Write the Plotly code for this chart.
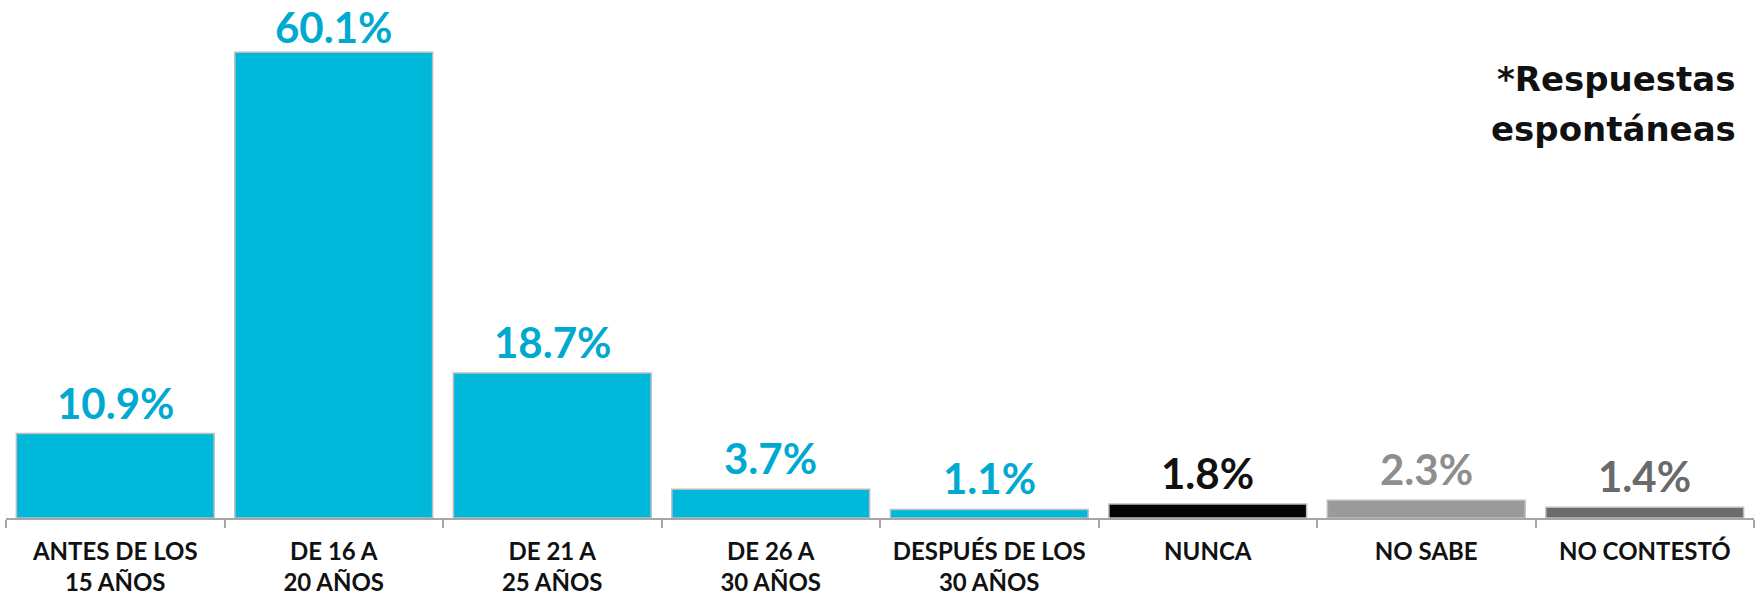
import plotly.graph_objects as go

categories = ["ANTES DE LOS<br>15 AÑOS", "DE 16 A<br>20 AÑOS", "DE 21 A<br>25 AÑOS", "DE 26 A<br>30 AÑOS",
              "DESPUÉS DE LOS<br>30 AÑOS", "NUNCA", "NO SABE", "NO CONTESTÓ"]
values = [10.9, 60.1, 18.7, 3.7, 1.1, 1.8, 2.3, 1.4]
bar_colors = ["#00B8D9"] * 5 + ["#050505", "#9A9A9A", "#6B6B6B"]
label_colors = ["#00A9D0"] * 5 + ["#111111", "#8E8E8E", "#6A6A6A"]
note_lines = ["*Respuestas", "espontáneas"]

FONT = "Lato"
Y_MAX = 66.84
PLOT_H = 596 - 78

fig = go.Figure()
fig.add_trace(go.Bar(
    x=categories, y=values,
    marker=dict(color=bar_colors, line=dict(color="#BDBDBD", width=1.5)),
    cliponaxis=False, width=0.905, hoverinfo="skip",
))

for cat, val, col in zip(categories, values, label_colors):
    room = PLOT_H * (1 - val / Y_MAX) - 27  # keep the label inside the page
    fig.add_annotation(x=cat, y=val, xref="x", yref="y", text=f"{val:.1f}%",
                       showarrow=False, yanchor="middle", yshift=min(31, room),
                       font=dict(family=FONT, size=42, color=col, weight="bold"))

for i, line in enumerate(note_lines):
    fig.add_annotation(text=f"<b>{line}</b>", xref="paper", yref="paper", x=1.0, y=1.0,
                       xanchor="right", yanchor="middle", align="right", showarrow=False,
                       yshift=-79 - 50 * i, xshift=-16,
                       font=dict(family="DejaVu Sans", size=34, color="#111111"))

fig.update_layout(
    width=1762, height=596,
    margin=dict(l=6, r=8, t=0, b=78, autoexpand=False),
    paper_bgcolor="white", plot_bgcolor="white",
    showlegend=False,
    xaxis=dict(showline=True, linecolor="#A6A6A6", linewidth=1.5, ticks="outside",
               tickson="boundaries", tickcolor="#A6A6A6", ticklen=8, tickwidth=1.5,
               ticklabelstandoff=11,
               tickfont=dict(family=FONT, size=24, color="#111111", weight="bold"),
               showgrid=False, automargin=False),
    yaxis=dict(range=[0, Y_MAX], visible=False, showgrid=False),
    font=dict(family=FONT, color="#111111"),
)

fig.write_html("out.html", config={"displayModeBar": False},
               post_script="document.body.style.margin='0';")
